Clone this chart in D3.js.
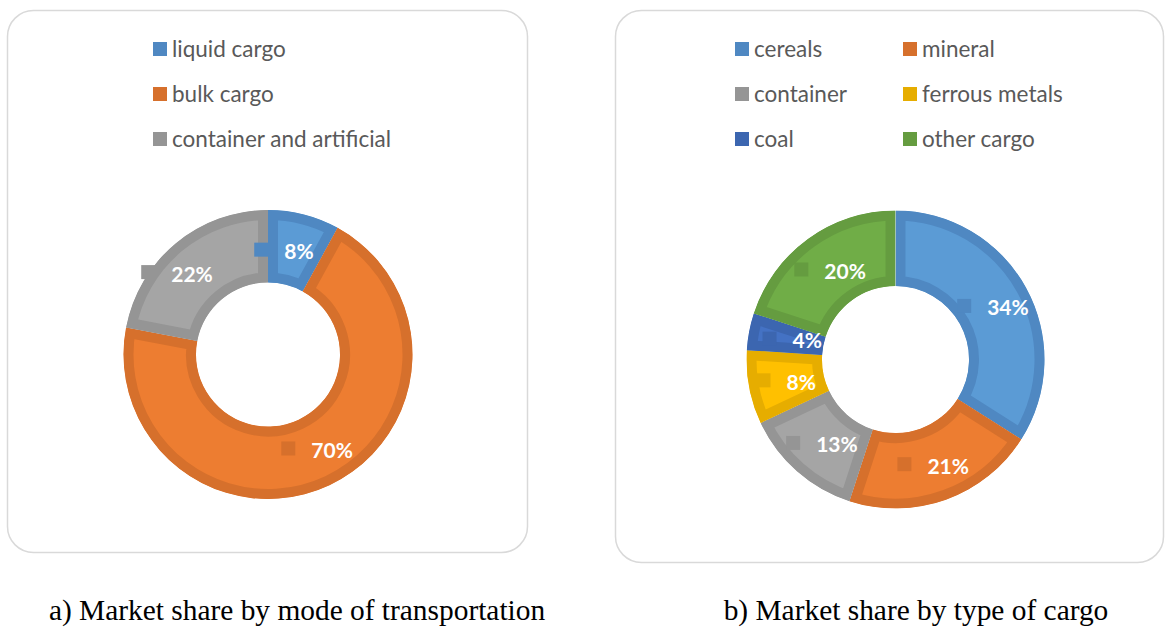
<!DOCTYPE html>
<html><head><meta charset="utf-8">
<script src="https://cdn.jsdelivr.net/npm/d3@7"></script>
<style>body{margin:0;background:#fff} svg{display:block}</style>
</head><body><svg id="chart" width="1165" height="628"></svg>
<script>
// ---- data ----
const modeCategories = ["liquid cargo", "bulk cargo", "container and artificial"];
const modeValues = [8, 70, 22];
const cargoCategories = ["cereals", "mineral", "container", "ferrous metals", "coal", "other cargo"];
const cargoValues = [34, 21, 13, 8, 4, 20];
const captions = ["a) Market share by mode of transportation", "b) Market share by type of cargo"];

// ---- styles ----
const fills = ["#5B9BD5", "#ED7D31", "#A5A5A5", "#FFC000", "#4472C4", "#70AD47"];
const darks = ["#4F88C2", "#D6702C", "#959595", "#E6AD00", "#3C66B0", "#659C40"];
// label nudges (pixels) as in the original layout
const modeLabelNudge = [[-11, 0], [3, -4], [-22, 1]];
const cargoLabelNudge = [[0, 0], [0, 0], [0, 0], [0, 0], [6, 0], [0, 0]];

const svg = d3.select("#chart");

function panel(x, y, w, h) {
  svg.append("rect").attr("x", x).attr("y", y).attr("width", w).attr("height", h)
    .attr("rx", 26).attr("ry", 26)
    .attr("fill", "#fff").attr("stroke", "#D9D9D9").attr("stroke-width", 1.5);
}

let clipId = 0;
function donut(cats, vals, nudge, cx, cy, R, r, band) {
  const g = svg.append("g").attr("transform", `translate(${cx},${cy})`);
  const pie = d3.pie().sort(null).value(d => d)(vals);
  const arc = d3.arc().innerRadius(r).outerRadius(R);
  const color = d3.scaleOrdinal().domain(cats).range(fills);
  const dark = d3.scaleOrdinal().domain(cats).range(darks);
  const defs = svg.append("defs");
  pie.forEach((d, i) => {
    const id = "clip" + (clipId++);
    defs.append("clipPath").attr("id", id).append("path").attr("d", arc(d));
    g.append("path").attr("d", arc(d))
      .attr("fill", color(cats[i]))
      .attr("stroke", dark(cats[i]))
      .attr("stroke-width", band * 2)
      .attr("clip-path", `url(#${id})`);
  });
  // labels
  pie.forEach((d, i) => {
    const [cxm, cym] = arc.centroid(d);
    const mx = cxm + nudge[i][0], my = cym + nudge[i][1];
    const lg = g.append("g");
    const t = lg.append("text")
      .attr("font-family", "Lato, 'Open Sans', sans-serif")
      .attr("font-weight", "bold").attr("font-size", 21)
      .attr("fill", "#fff")
      .attr("dominant-baseline", "central")
      .text(vals[i] + "%");
    const tw = t.node().getComputedTextLength();
    const key = 14, gap = 16;
    const total = key + gap + tw;
    const x0 = mx - total / 2;
    lg.insert("rect", "text").attr("x", x0).attr("y", my - key / 2)
      .attr("width", key).attr("height", key).attr("fill", dark(cats[i]));
    t.attr("x", x0 + key + gap).attr("y", my + 1);
  });
}

function legend(cats, x0, y0, colW, cols) {
  const dark = d3.scaleOrdinal().domain(cats).range(darks);
  cats.forEach((c, i) => {
    const col = i % cols, row = Math.floor(i / cols);
    const x = x0 + col * colW, y = y0 + row * 45;
    svg.append("rect").attr("x", x).attr("y", y).attr("width", 14).attr("height", 14)
      .attr("fill", dark(c));
    svg.append("text").attr("x", x + 19).attr("y", y + 14.5)
      .attr("font-family", "Lato, 'Open Sans', sans-serif")
      .attr("font-size", 22.5).attr("fill", "#595959").text(c);
  });
}

panel(7.5, 10.5, 520, 542);
panel(615.5, 10.5, 548, 552);

legend(modeCategories, 153, 42, 0, 1);
legend(cargoCategories, 735, 42, 168, 2);

donut(modeCategories, modeValues, modeLabelNudge, 268, 354.5, 144.5, 72, 10);
donut(cargoCategories, cargoValues, cargoLabelNudge, 895.5, 359.5, 149, 73.5, 10);

const capX = [297, 916];
captions.forEach((c, i) => {
  svg.append("text").attr("x", capX[i]).attr("y", 620)
    .attr("text-anchor", "middle")
    .attr("font-family", "'Liberation Serif', 'Times New Roman', serif")
    .attr("font-size", 29.4).attr("fill", "#000").text(c);
});
</script>
</body></html>
